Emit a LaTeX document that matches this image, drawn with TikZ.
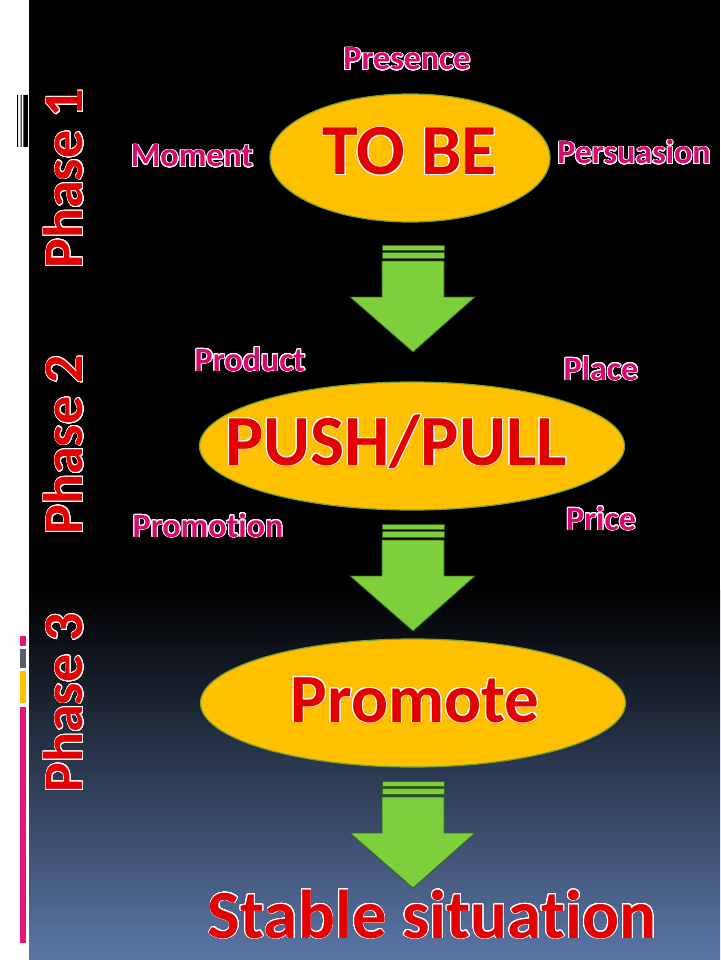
\documentclass[tikz,border=0pt]{standalone}
\usepackage{fontspec}
\setmainfont{Carlito}[Ligatures=NoCommon]
\usepackage{contour}
\contourlength{0.9pt}
\contournumber{24}
\usetikzlibrary{shapes.geometric, positioning}

\definecolor{ellyellow}{RGB}{255,192,0}
\definecolor{ellborder}{RGB}{120,160,50}
\definecolor{arrowgreen}{RGB}{125,208,60}
\definecolor{arrowdark}{RGB}{55,100,28}
\definecolor{wordred}{RGB}{226,0,0}
\definecolor{keypink}{RGB}{214,10,110}
\definecolor{bgblue}{RGB}{90,118,166}
\definecolor{bgmid}{RGB}{36,48,70}
\definecolor{barpink}{RGB}{228,20,120}
\definecolor{bargray}{RGB}{84,96,110}

\begin{document}
\begin{tikzpicture}[x=1pt, y=-1pt,
    stage/.style={ellipse, draw=ellborder, line width=1.2pt, fill=ellyellow, inner sep=0pt},
    bigword/.style={anchor=base, text=wordred, font=\bfseries\fontsize{72}{86}\selectfont},
    lowword/.style={bigword, font=\bfseries\fontsize{69}{83}\selectfont},
    keyword/.style={anchor=base, text=keypink, font=\bfseries\fontsize{34}{40}\selectfont},
    phase/.style={rotate=90, text=wordred, font=\bfseries\fontsize{56}{66}\selectfont},
    arrowpart/.style={fill=arrowgreen, draw=arrowdark, line width=0.8pt}]

% background and left strip
\useasboundingbox (0,0) rectangle (720,960);
\fill[black] (29,0) rectangle (720,592);
\shade[top color=black, middle color=bgmid, bottom color=bgblue] (29,590) rectangle (720,960);
\fill[white] (0,0) rectangle (29,960);
\fill[black] (17,95) rectangle (18.2,147) (20.5,95) rectangle (21.7,147) (23.3,95) rectangle (27.8,147);
\fill[barpink] (20,636) rectangle (26,646);
\fill[bargray] (20,649) rectangle (26,668);
\fill[ellyellow] (20,671) rectangle (26,703);
\fill[barpink] (20,707) rectangle (26,943);

% phases
\node[phase] (phase1) at (64,179) {\contour{white}{Phase 1}};
\node[phase] (phase2) at (64,445) {\contour{white}{Phase 2}};
\node[phase] (phase3) at (64,703) {\contour{white}{Phase 3}};

% stages
\node[stage, minimum width=280, minimum height=128] (tobe) at (410,158) {};
\node[stage, minimum width=425, minimum height=128] (pushpull) at (412,446) {};
\node[stage, minimum width=425, minimum height=128] (promote) at (413,703) {};

\node[bigword] (tobe word) at (410,175) {\contour{white}{TO BE}};
\node[bigword] (pushpull word) at (396,465) {\contour{white}{PUSH/PULL}};
\node[lowword] (promote word) at (415,722) {\contour{white}{Promote}};
\node[lowword] (stable) at (432,938) {\contour{white}{Stable situation}};

% keywords round the stages
\node[keyword] (presence) at (407,70) {\contour{white}{Presence}};
\node[keyword] (moment) at (192,167) {\contour{white}{Moment}};
\node[keyword] (persuasion) at (634,164) {\contour{white}{Persuasion}};
\node[keyword] (product) at (250,371) {\contour{white}{Product}};
\node[keyword] (place) at (601,380) {\contour{white}{Place}};
\node[keyword] (promotion) at (208,537) {\contour{white}{Promotion}};
\node[keyword] (price) at (601,530) {\contour{white}{Price}};

% striped arrows
\foreach \t in {245,524,781}{
  \filldraw[arrowpart] (382,\t) rectangle (444,{\t+5});
  \filldraw[arrowpart] (382,{\t+7}) rectangle (444,{\t+13});
  \filldraw[arrowpart] (382,{\t+16}) -- (444,{\t+16}) -- (444,{\t+52}) -- (475,{\t+52})
    -- (413,{\t+107}) -- (350,{\t+52}) -- (382,{\t+52}) -- cycle;
}
\end{tikzpicture}
\end{document}
